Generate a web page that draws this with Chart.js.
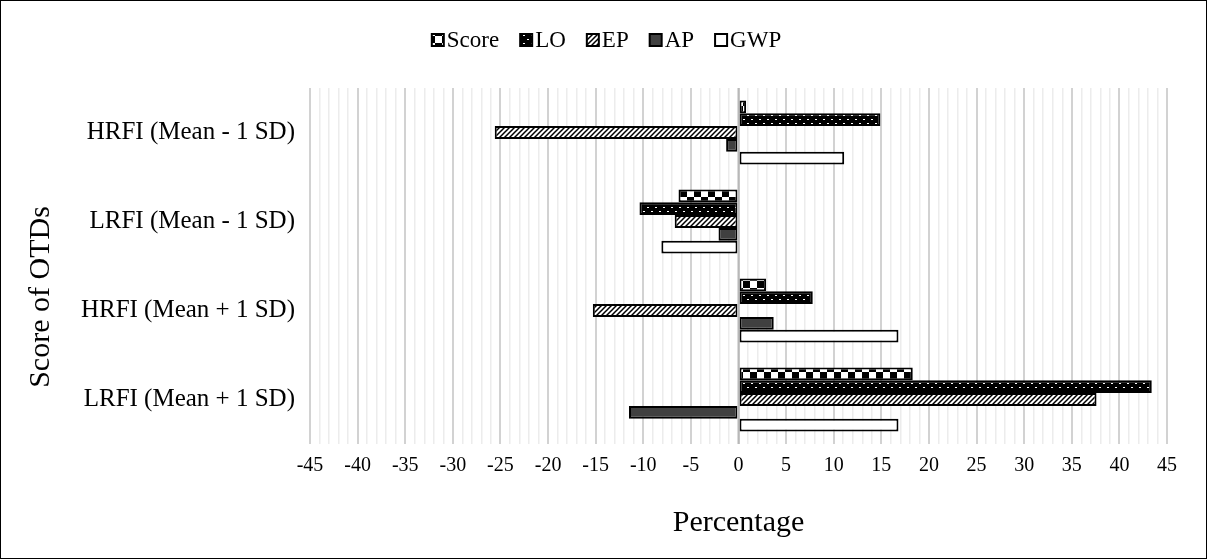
<!DOCTYPE html>
<html>
<head>
<meta charset="utf-8">
<script src="https://cdn.jsdelivr.net/npm/chart.js@4/dist/chart.umd.min.js"></script>
<style>
  html, body { margin: 0; padding: 0; background: #fff; }
  #wrap { width: 1207px; height: 559px; box-sizing: border-box; border: 1px solid #000; position: relative; }
</style>
</head>
<body>
<div id="wrap"><canvas id="chart"></canvas></div>
<script>
const categories = ['HRFI (Mean - 1 SD)', 'LRFI (Mean - 1 SD)', 'HRFI (Mean + 1 SD)', 'LRFI (Mean + 1 SD)'];
const seriesNames = ['Score', 'LO', 'EP', 'AP', 'GWP'];
const scoreValues = [0.8, -6.3, 2.9, 18.3];
const loValues = [14.9, -10.4, 7.8, 43.4];
const epValues = [-25.6, -6.7, -15.3, 37.6];
const apValues = [-1.3, -2.1, 3.7, -11.5];
const gwpValues = [11.1, -8.1, 16.8, 16.8];
const xTicks = { min: -45, max: 45, major: 5 };
const yTitle = 'Score of OTDs';

const SERIF = '"Liberation Serif", "Times New Roman", serif';

// fill patterns
function makePattern(size, draw) {
  const c = document.createElement('canvas');
  c.width = size; c.height = size;
  const g = c.getContext('2d');
  draw(g, size);
  return g.createPattern(c, 'repeat');
}

const checker = makePattern(14, (g, s) => {
  g.fillStyle = '#fff'; g.fillRect(0, 0, s, s);
  g.fillStyle = '#000';
  g.fillRect(0, 0, 7, 7);
  g.fillRect(7, 7, 7, 7);
});
const dotted = makePattern(8, (g, s) => {
  g.fillStyle = '#000'; g.fillRect(0, 0, s, s);
  g.fillStyle = '#fff';
  g.fillRect(2, 2, 2, 1);
  g.fillRect(6, 6, 2, 1);
});
const hatch = makePattern(5, (g, s) => {
  g.fillStyle = '#fff'; g.fillRect(0, 0, s, s);
  g.strokeStyle = '#000'; g.lineWidth = 1.5;
  g.beginPath();
  g.moveTo(-1, s + 1); g.lineTo(s + 1, -1);
  g.moveTo(-1, 1); g.lineTo(1, -1);
  g.moveTo(s - 1, s + 1); g.lineTo(s + 1, s - 1);
  g.stroke();
});

const fills = [checker, dotted, hatch, '#404040', '#ffffff'];
const allValues = [scoreValues, loValues, epValues, apValues, gwpValues];

const datasets = seriesNames.map((name, i) => ({
  label: name,
  data: allValues[i],
  backgroundColor: fills[i],
  borderColor: '#000',
  borderWidth: 2,
  borderSkipped: false,
  categoryPercentage: 0.72,
  barPercentage: 1.0
}));

// gray zero line drawn over the bars
const zeroLine = {
  id: 'zeroLine',
  afterDatasetsDraw(chart) {
    const x = chart.scales.x.getPixelForValue(0);
    const a = chart.chartArea;
    const ctx = chart.ctx;
    ctx.save();
    ctx.strokeStyle = '#b8b8b8';
    ctx.lineWidth = 2;
    ctx.beginPath();
    ctx.moveTo(x, a.top);
    ctx.lineTo(x, a.bottom);
    ctx.stroke();
    ctx.restore();
  }
};

// legend with the swatch sitting right against the text,
// plus the y title centred on the plot and its labels (as Excel does)
const extras = {
  id: 'extras',
  afterDraw(chart) {
    const ctx = chart.ctx;
    const box = 12, gap = 3, spacing = 21, y = 39;
    ctx.save();
    ctx.font = '23px ' + SERIF;
    ctx.textBaseline = 'middle';
    const ds = chart.data.datasets;
    const widths = ds.map(d => ctx.measureText(d.label).width);
    const total = widths.reduce((a, w) => a + w + box + gap, 0) + spacing * (ds.length - 1);
    let x = (chart.width - total) / 2 + 3;
    ds.forEach((d, i) => {
      ctx.fillStyle = d.backgroundColor;
      ctx.fillRect(x, y - box / 2, box, box);
      ctx.strokeStyle = '#000';
      ctx.lineWidth = 2;
      ctx.strokeRect(x, y - box / 2, box, box);
      ctx.fillStyle = '#000';
      ctx.fillText(d.label, x + box + gap, y + 1);
      x += box + gap + widths[i] + spacing;
    });

    const a = chart.chartArea;
    ctx.font = '30px ' + SERIF;
    ctx.textAlign = 'center';
    ctx.translate(40, (a.top + chart.scales.x.bottom - 40) / 2);
    ctx.rotate(-Math.PI / 2);
    ctx.fillText(yTitle, 0, 0);
    ctx.restore();
  }
};

new Chart(document.getElementById('chart'), {
  type: 'bar',
  data: { labels: categories, datasets: datasets },
  plugins: [zeroLine, extras],
  options: {
    indexAxis: 'y',
    responsive: true,
    maintainAspectRatio: false,
    animation: false,
    layout: { padding: { left: 26, right: 39, top: 87, bottom: 12 } },
    plugins: {
      tooltip: { enabled: false },
      legend: { display: false }
    },
    scales: {
      x: {
        min: xTicks.min,
        max: xTicks.max,
        afterFit(s) { s.height = 102; },
        ticks: {
          stepSize: 1,
          autoSkip: false,
          maxRotation: 0,
          color: '#000',
          padding: 10,
          font: { family: SERIF, size: 20 },
          callback: v => (v % xTicks.major === 0 ? v : '')
        },
        grid: {
          drawTicks: false,
          color: ctx => (ctx.tick && ctx.tick.value % xTicks.major === 0 ? '#d2d2d2' : '#ececec'),
          lineWidth: ctx => (ctx.tick && ctx.tick.value % xTicks.major === 0 ? 2 : 1.5)
        },
        border: { display: false },
        title: {
          display: true,
          text: 'Percentage',
          color: '#000',
          font: { family: SERIF, size: 30 },
          padding: { top: 0, bottom: 5 }
        }
      },
      y: {
        afterFit(s) { s.width = 283; },
        ticks: {
          color: '#000',
          padding: 7,
          font: { family: SERIF, size: 25 }
        },
        grid: { display: false },
        border: { display: false },
        title: { display: false }
      }
    }
  }
});
</script>
</body>
</html>
